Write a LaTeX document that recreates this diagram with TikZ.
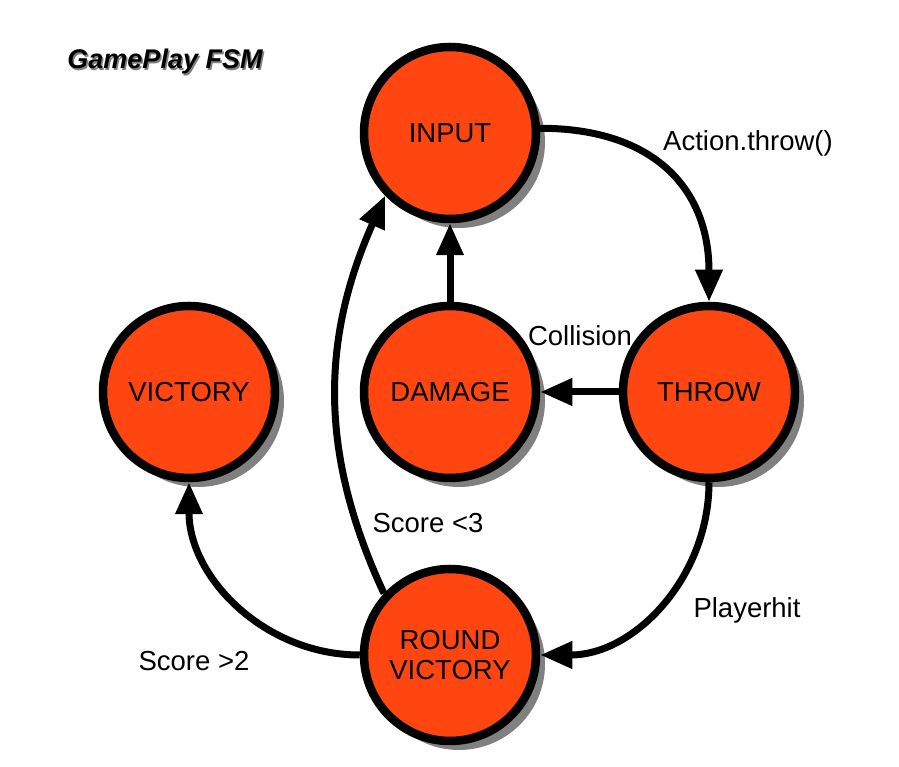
\documentclass[tikz,border=0pt]{standalone}
\usepackage{fontspec}
\setmainfont{Liberation Sans}
\usetikzlibrary{arrows.meta,shadows}
\definecolor{stfill}{HTML}{FF4611}
\definecolor{shd}{HTML}{808080}
\begin{document}
\begin{tikzpicture}[x=1pt,y=1pt,
  state/.style={circle, draw=black, line width=8.5pt, fill=stfill, minimum size=172pt,
    inner sep=0pt, align=center, font=\fontsize{27.5}{30}\selectfont,
    drop shadow={shadow xshift=9pt, shadow yshift=-9pt, opacity=1, fill=shd}},
  conn/.style={line width=7pt, -{Triangle[length=32pt,width=26pt]}},
  lbl/.style={font=\fontsize{27.5}{30}\selectfont, inner sep=0pt}]
\useasboundingbox (0,0) rectangle (899,767);
% title
\node[font=\fontsize{27}{30}\selectfont\bfseries\itshape, text=shd] (titleshadow) at (166.5,703.5) {GamePlay FSM};
\node[font=\fontsize{27}{30}\selectfont\bfseries\itshape] (title) at (165,705) {GamePlay FSM};
% states
\node[state] (input) at (450,634) {INPUT};
\node[state] (victory) at (189,375) {VICTORY};
\node[state] (damage) at (450,375) {DAMAGE};
\node[state] (throw) at (709,375) {THROW};
\node[state] (rv) at (450,112) {ROUND\\VICTORY};
% connectors
\draw[conn] (input.3) to[out=0,in=90,looseness=1.2] (throw.north);
\draw[conn] (throw.west) -- (damage.east);
\draw[conn] (damage.north) -- (input.south);
\draw[conn] (rv.137) to[out=115,in=246] (input.224);
\draw[conn] (rv.west) to[out=180,in=-90] (victory.south);
\draw[conn] (throw.south) to[out=-90,in=0] (rv.east);
% labels
\node[lbl] (l1) at (748,624) {Action.throw()};
\node[lbl] (l2) at (580,431) {Collision};
\node[lbl] (l3) at (428,244) {Score <3};
\node[lbl] (l4) at (747,157) {Playerhit};
\node[lbl] (l5) at (194,106) {Score >2};
\end{tikzpicture}
\end{document}
